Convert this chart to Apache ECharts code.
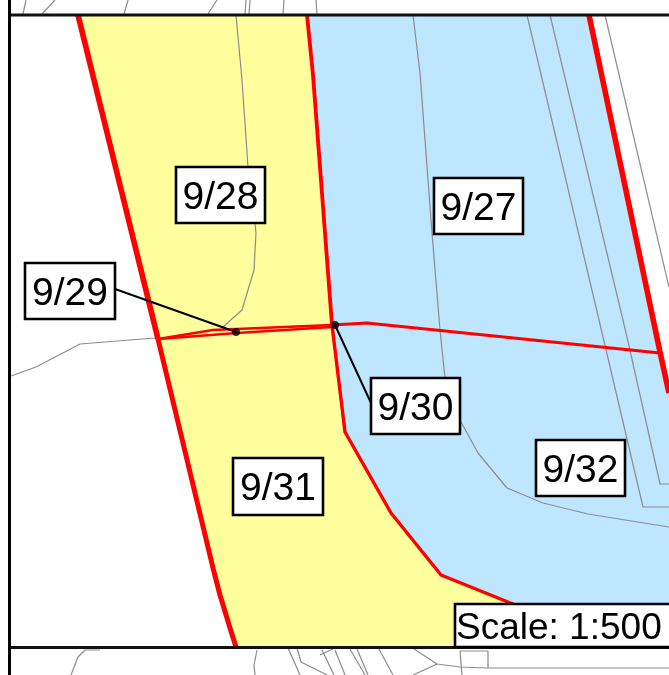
<!DOCTYPE html>
<html>
<head>
<meta charset="utf-8">
<style>html,body{margin:0;padding:0;background:#fff}#c{width:669px;height:675px}</style>
<script src="https://cdn.jsdelivr.net/npm/echarts@6/dist/echarts.min.js"></script>
</head>
<body>
<div id="c"></div>
<script>
// Parcels (map coordinates)
const parcel28 = [[78,15],[307,15],[313,75],[332,325],[158,339]];
const parcel31 = [[158,339],[332,325],[345,432],[391,513],[441,575],[513,604],[513,647],[236,647],[230,628],[220,595],[213,568]];
const parcel27 = [[307,15],[589,15],[660,352],[367,323],[332,325],[313,75]];
const parcel32 = [[332,325],[367,323],[660,352],[669,393],[669,648],[513,648],[513,604],[441,575],[391,513],[345,432]];

// Parcel boundaries
const westBoundaryA = [[78,15],[158,339]];
const westBoundaryB = [[158,339],[213,568],[220,595],[230,628],[236,647]];
const eastBoundaryTop = [[307,15],[313,75],[332,325]];
const eastBoundaryLow = [[332,325],[345,432],[391,513],[441,575],[513,604]];
const farBoundary = [[589,15],[660,352],[669,393]];
const crossBoundary = [[332,325],[367,323],[660,353]];
const sliverUpper = [[158,339],[213,330],[332,325]];
const sliverLower = [[158,339],[237,333],[332,327]];

// Background cadastral lines
const cadastre = [
  [[236,15],[242,80],[248,167],[255,223],[256,233],[254,270],[242,310],[223,327]],
  [[413,15],[420,73],[432,233],[440,330],[445,378],[461,422],[478,453],[507,488],[543,503],[588,514],[669,527]],
  [[527,15],[603,337],[643,507],[669,507]],
  [[550,15],[627,337],[660,484],[669,484]],
  [[605,15],[669,287]],
  [[155,338],[80,344],[36,367],[11,376]],
  [[26,0],[23,14]],[[55,0],[42,14]],[[128,0],[124,14]],[[217,0],[208,14]],
  [[246,0],[245,14]],[[250,0],[249,14]],[[284,0],[283,14]],[[316,0],[317,14]],
  [[100,650],[85,650],[78,657],[71,675]],
  [[257,650],[254,665],[255,675]],
  [[288,648],[300,675]],
  [[297,648],[301,662],[327,675]],
  [[320,655],[333,649]],
  [[322,650],[334,675]],
  [[335,650],[345,675]],
  [[350,649],[365,675]],
  [[357,649],[368,675]],
  [[379,649],[393,675]],
  [[414,649],[437,664],[460,667],[488,668],[669,668]],
  [[437,664],[413,675]],
  [[460,651],[488,651],[488,668]],
  [[460,651],[462,675]]
];

// Map frame
const frameTop = [[9,15],[669,15]];
const frameBottom = [[9,647.5],[669,647.5]];
const frameLeft = [[9.5,0],[9.5,675]];

// Labels: text, box corners
const labelTexts = ['9/28','9/29','9/27','9/31','9/30','9/32'];
const labelBoxes = [[176,167,265,223],[25,263,115,319],[434,178,523,234],[233,458,323,515],[371,378,460,434],[536,440,625,496]];
const scaleText = 'Scale: 1:500';
const scaleBox = [455,604,680,647];

// Leaders
const leader29 = [[115,289],[236,332]];
const leader30 = [[335,325],[371,403]];
const leaderDots = [[236,332],[335,325]];

function poly(pts, color, z){
  return {type:'custom', coordinateSystem:'cartesian2d', silent:true, z:z, data:pts, encode:{x:0,y:1},
    clip:false, renderItem:function(p,api){
      if(p.dataIndex!==0) return null;
      return {type:'polygon', shape:{points:pts.map(function(q){return api.coord(q);})}, style:{fill:color}};
    }};
}
function line(pts, color, w, z, cap){
  return {type:'line', data:pts, showSymbol:false, symbol:'none', silent:true, z:z, clip:true, animation:false,
    lineStyle:{color:color, width:w, cap:cap||'butt', join:'round'}};
}
function box(text, b, size, align, z){
  return {type:'custom', coordinateSystem:'cartesian2d', silent:true, z:z, clip:true,
    data:[[b[0],b[1],b[2],b[3]]], encode:{x:[0,2],y:[1,3]},
    renderItem:function(p,api){
      const a=api.coord([b[0],b[1]]), c=api.coord([b[2],b[3]]);
      return {type:'group', children:[
        {type:'rect', shape:{x:a[0],y:a[1],width:c[0]-a[0],height:c[1]-a[1]},
          style:{fill:'#fff',stroke:'#000',lineWidth:2.6}},
        {type:'text', z2:5, style:{text:text, x:align==='left'?a[0]+1:(a[0]+c[0])/2, y:(a[1]+c[1])/2+3,
          align:align, verticalAlign:'middle', fill:'#000',
          font:size+'px "Liberation Sans", Arial, sans-serif'}}
      ]};
    }};
}

const series = [
  poly(parcel28,'#FFFF9E',1), poly(parcel31,'#FFFF9E',1),
  poly(parcel27,'#BEE6FF',1), poly(parcel32,'#BEE6FF',1)
];
cadastre.forEach(function(l){ series.push(line(l,'#8c8c8c',1.2,2)); });
series.push(line(westBoundaryA,'#FF0000',5.6,3));
series.push(line(westBoundaryB,'#FF0000',5,3));
series.push(line(eastBoundaryTop,'#FF0000',3.8,3));
series.push(line(eastBoundaryLow,'#FF0000',3.4,3));
series.push(line(farBoundary,'#FF0000',5.6,3));
series.push(line(crossBoundary,'#FF0000',3,3));
series.push(line(sliverUpper,'#FF0000',2.6,3));
series.push(line(sliverLower,'#FF0000',2.6,3));
series.push(line(leader29,'#000',2,4));
series.push(line(leader30,'#000',2,4));
series.push({type:'scatter', data:leaderDots, symbol:'circle', symbolSize:8, silent:true, z:5,
  itemStyle:{color:'#000'}});
series.push(line(frameTop,'#111',2.8,6));
series.push(line(frameBottom,'#111',2.8,6));
series.push(line(frameLeft,'#000',3,6));
labelTexts.forEach(function(t,i){ series.push(box(t,labelBoxes[i],39,'center',7)); });
series.push(box(scaleText,scaleBox,37,'left',8));

const chart = echarts.init(document.getElementById('c'));
chart.setOption({
  animation:false, backgroundColor:'#fff',
  grid:{left:0,right:0,top:0,bottom:0},
  xAxis:{type:'value',min:0,max:669,show:false},
  yAxis:{type:'value',min:0,max:675,inverse:true,show:false},
  tooltip:{show:false},
  series:series
});
</script>
</body>
</html>
